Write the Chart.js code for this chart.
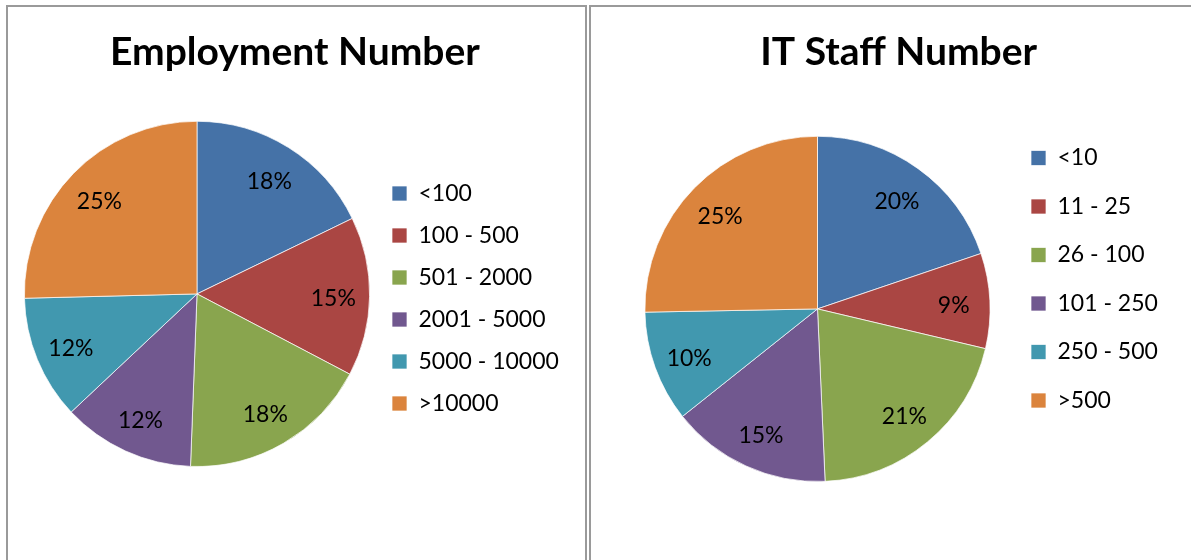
<!DOCTYPE html>
<html>
<head>
<meta charset="utf-8">
<script src="https://cdn.jsdelivr.net/npm/chart.js@4.4.1/dist/chart.umd.min.js"></script>
<style>
  html, body { margin: 0; padding: 0; background: #fff; width: 1191px; height: 560px; overflow: hidden; }
  body { position: relative; }
  .panel { position: absolute; top: 5px; height: 620px; border: 2px solid #9a9a9a; box-sizing: border-box; }
  #panel-emp { left: 6px; width: 581px; }
  #panel-it { left: 589px; width: 608px; }
  canvas { position: absolute; }
  #chart-emp { left: 8px; top: 7px; }
  #chart-it { left: 591px; top: 7px; }
</style>
</head>
<body>
<div class="panel" id="panel-emp"></div>
<div class="panel" id="panel-it"></div>
<canvas id="chart-emp" width="577" height="553"></canvas>
<canvas id="chart-it" width="603" height="553"></canvas>
<script>
// Excel 2007 style pie palette
const PALETTE = ['#4572A7', '#AA4643', '#89A54E', '#71588F', '#4198AF', '#DB843D'];

const empLabels = ['<100', '100 - 500', '501 - 2000', '2001 - 5000', '5000 - 10000', '>10000'];
const empValues = [17.8, 14.9, 17.9, 12.4, 11.6, 25.4];

const itLabels = ['<10', '11 - 25', '26 - 100', '101 - 250', '250 - 500', '>500'];
const itValues = [19.8, 8.9, 20.6, 15.0, 10.4, 25.3];

Chart.defaults.font.family = "'Lato', sans-serif";
Chart.defaults.color = '#000';

// percentage labels placed inside each slice
const percentLabels = {
    id: 'percentLabels',
    afterDatasetsDraw(chart) {
        const ctx = chart.ctx;
        const ds = chart.data.datasets[0];
        const total = ds.data.reduce((a, b) => a + b, 0);
        const meta = chart.getDatasetMeta(0);
        ctx.save();
        ctx.font = "23px 'Lato', sans-serif";
        ctx.fillStyle = '#000';
        ctx.textAlign = 'center';
        ctx.textBaseline = 'middle';
        meta.data.forEach((arc, i) => {
            const p = arc.getProps(['x', 'y', 'startAngle', 'endAngle', 'outerRadius'], true);
            const mid = (p.startAngle + p.endAngle) / 2;
            const r = p.outerRadius * 0.79;
            const pct = Math.round(ds.data[i] / total * 100) + '%';
            ctx.fillText(pct, p.x + Math.cos(mid) * r, p.y + Math.sin(mid) * r + 3);
        });
        ctx.restore();
    }
};

function makePie(id, title, labels, values, lay) {
    const ctx = document.getElementById(id).getContext('2d');
    const chart = new Chart(ctx, {
        type: 'pie',
        data: {
            labels: labels,
            datasets: [{
                data: values,
                backgroundColor: PALETTE,
                borderColor: 'rgba(255,255,255,0.7)',
                borderWidth: 1
            }]
        },
        options: {
            responsive: false,
            animation: false,
            layout: { padding: { left: lay.padLeft, right: 0, top: 0, bottom: lay.padBottom } },
            plugins: {
                title: {
                    display: true,
                    text: title,
                    color: '#000',
                    font: { size: 39, weight: 'bold', lineHeight: 1.2 },
                    padding: { top: lay.titleTop, bottom: lay.titleBottom }
                },
                legend: {
                    position: 'right',
                    align: 'start',
                    fullSize: true,
                    title: {
                        display: true,
                        text: ' ',
                        font: { size: 10, lineHeight: 1 },
                        padding: { top: lay.spacer - 10, bottom: 0 }
                    },
                    labels: {
                        boxWidth: 15,
                        boxHeight: 15,
                        padding: lay.legendPadding,
                        color: '#000',
                        font: { size: 23 }
                    }
                },
                tooltip: { enabled: false }
            }
        },
        plugins: [percentLabels]
    });
    // shift legend so its left edge lands where the reference has it
    chart.options.layout.padding.right = chart.legend.left - lay.legendLeft;
    chart.update('none');
    return chart;
}

makePie('chart-emp', 'Employment Number', empLabels, empValues, {
    titleTop: 22, titleBottom: 45, padLeft: 13, padBottom: 93,
    legendLeft: 365, legendPadding: 19, spacer: 156
});

makePie('chart-it', 'IT Staff Number', itLabels, itValues, {
    titleTop: 22, titleBottom: 60, padLeft: 38.5, padBottom: 78,
    legendLeft: 414.5, legendPadding: 25.5, spacer: 114
});
</script>
</body>
</html>
